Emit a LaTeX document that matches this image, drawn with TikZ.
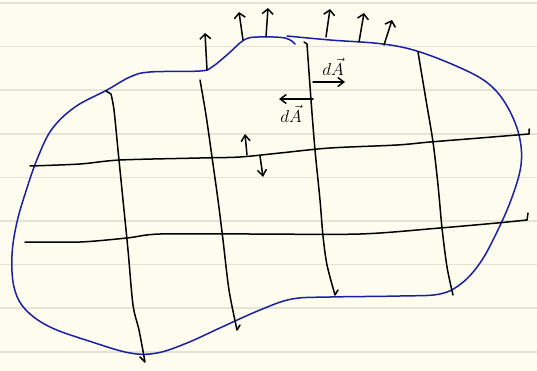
\documentclass[tikz,border=0pt]{standalone}
\usepackage{amsmath,amssymb}
\usepackage{xcolor}
\usetikzlibrary{arrows.meta,positioning,calc}

\definecolor{paper}{RGB}{253,252,238}
\definecolor{ruling}{RGB}{229,227,214}
\definecolor{ink}{RGB}{24,32,165}

\begin{document}
\begin{tikzpicture}[x=1pt, y=-1pt, >={Straight Barb[length=5pt,width=11pt]},
  line cap=round, line join=round]

  \tikzset{
    gridline/.style={black, line width=1.5pt},
    surface/.style={ink, line width=1.5pt},
    normal/.style={->, black, line width=1.5pt},
    element/.style={->, black, line width=1.5pt, >={Straight Barb[length=6pt,width=9pt]}},
    dalabel/.style={font=\LARGE, inner sep=0pt}
  }

  % Define paper and ruling
  \fill[paper] (0,0) rectangle (537,371);
  \useasboundingbox (0,0) rectangle (537,371);
  \foreach \i in {0,...,8}
    \draw[ruling, line width=1.5pt] (0,3+43.6*\i) -- (537,3+43.6*\i);

  % Draw the closed surface
  \draw[surface] plot[smooth, tension=0.6] coordinates {
    (287,36) (330,40) (383,44) (420,52) (465,70) (490,85) (507,106)
    (519,135) (521,165) (511,200) (495,236) (480,263) (462,283)
    (440,294) (400,296) (330,297) (292,299) (260,310) (222,327)
    (187,343) (157,353) (130,353) (92,342) (50,327) (25,309)
    (14,287) (12,255) (17,222) (27,188) (38,157) (52,129) (75,107)
    (107,90) (130,77) (150,72) (200,71) (212,67) (228,54) (244,40)
    (258,37) (285,38) (295,44)};

  % Draw the grid on the surface
  \draw[gridline] plot[smooth, tension=0.5] coordinates {
    (30,166) (80,164) (120,160) (200,158) (240,157) (280,153)
    (330,148) (397,145) (430,142) (480,138) (529,134)} -- (529,129);
  \draw[gridline] plot[smooth, tension=0.5] coordinates {
    (25,242) (80,242) (127,238) (160,234) (250,234) (360,234)
    (440,228) (497,223) (527,220)} -- (528,213);
  \draw[gridline] (106,91) -- (111,94) plot[smooth, tension=0.5] coordinates {
    (111,94) (114,110) (118,150) (123,200) (128,250) (133,305)
    (139,330) (145,362)} -- (140,357);
  \draw[gridline] plot[smooth, tension=0.5] coordinates {
    (200,80) (206,115) (212,157) (218,200) (223,240) (229,290)
    (237,330)} -- (240,325);
  \draw[gridline] (304,42) -- (307,44) plot[smooth, tension=0.5] coordinates {
    (307,44) (311,100) (315,150) (320,200) (323,236) (327,265)
    (335,295)} -- (338,290);
  \draw[gridline] plot[smooth, tension=0.5] coordinates {
    (418,52) (426,100) (433,142) (438,185) (442,228) (447,267)
    (453,295)};

  % Define coordinates for the normals
  \coordinate (n1s) at (207,70);
  \coordinate (n1e) at (205,33);
  \coordinate (n2s) at (243,40);
  \coordinate (n2e) at (239,12);
  \coordinate (n3s) at (266,37);
  \coordinate (n3e) at (268,8);
  \coordinate (n4s) at (326,37);
  \coordinate (n4e) at (330,9);
  \coordinate (n5s) at (359,42);
  \coordinate (n5e) at (364,13);
  \coordinate (n6s) at (384,45);
  \coordinate (n6e) at (392,20);
  \coordinate (u1s) at (247,155);
  \coordinate (u1e) at (245,134);
  \coordinate (u2s) at (260,156);
  \coordinate (u2e) at (263,177);
  \coordinate (r1s) at (313,82);
  \coordinate (r1e) at (345,82);
  \coordinate (l1s) at (313,99);
  \coordinate (l1e) at (279,99);

  % Draw arrows
  \draw[normal] (n1s) -- (n1e);
  \draw[normal] (n2s) -- (n2e);
  \draw[normal] (n3s) -- (n3e);
  \draw[normal] (n4s) -- (n4e);
  \draw[normal] (n5s) -- (n5e);
  \draw[normal] (n6s) -- (n6e);
  \draw[element] (u1s) -- (u1e);
  \draw[element] (u2s) -- (u2e);
  \draw[element] (r1s) -- (r1e);
  \draw[element] (l1s) -- (l1e);

  % Labels
  \node[dalabel] (dAout) at (333,67) {$d\vec{A}$};
  \node[dalabel] (dAin) at (291,114) {$d\vec{A}$};
\end{tikzpicture}
\end{document}
